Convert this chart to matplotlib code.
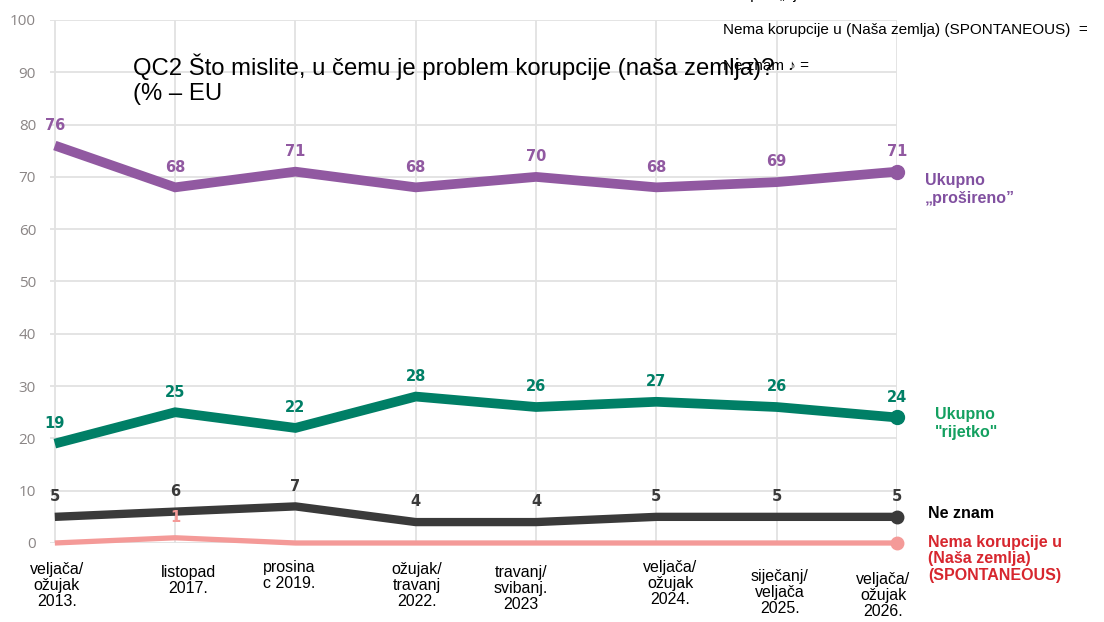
import matplotlib.pyplot as plt

# survey waves (x categories)
waves = ["veljača/\nožujak\n2013.", "listopad\n2017.", "prosina\nc 2019.",
         "ožujak/\ntravanj\n2022.", "travanj/\nsvibanj.\n2023",
         "veljača/\nožujak\n2024.", "siječanj/\nveljača\n2025.",
         "veljača/\nožujak\n2026."]

# series values (%)
prosireno = [76, 68, 71, 68, 70, 68, 69, 71]
rijetko = [19, 25, 22, 28, 26, 27, 26, 24]
ne_znam = [5, 6, 7, 4, 4, 5, 5, 5]
nema_korupcije = [0, 1, 0, 0, 0, 0, 0, 0]

yticks = [0, 10, 20, 30, 40, 50, 60, 70, 80, 90, 100]

# small nudges for the wave labels (pixels), as in the source image
label_dx = [2, 13, -6, 1, -15, 14, 3, -14]
label_dy = [0, 3, -2, 0, 3, -2, 7, 10]

plt.rcParams['font.family'] = ['Liberation Sans', 'DejaVu Sans']

fig = plt.figure(figsize=(11.04, 6.22), dpi=100)
ax = fig.add_axes([50 / 1104, 79 / 622, 847 / 1104, 523 / 622])

x = list(range(len(waves)))

series = [
    (prosireno, "#9159a1", 7, 10, "#9159a1", True),
    (rijetko, "#007f66", 7, 10, "#007f66", True),
    (ne_znam, "#3a3a3a", 6, 9, "#3a3a3a", True),
    (nema_korupcije, "#f49a98", 3.8, 9, "#f49a98", False),
]

for vals, col, lw, ms, lcol, all_labels in series:
    ax.plot(x, vals, color=col, lw=lw, solid_joinstyle='miter',
            solid_capstyle='butt', clip_on=False, zorder=3)
    ax.plot(x[-1], vals[-1], 'o', color=col, ms=ms, clip_on=False, zorder=4)
    for xi, v in zip(x, vals):
        if not all_labels and v == 0:
            continue
        ax.annotate(str(v), (xi, v), xytext=(0, 14.5), textcoords='offset points',
                    ha='center', va='center', fontsize=10.5, fontweight='bold',
                    color=lcol, family='DejaVu Sans', zorder=5)

ax.set_xlim(-0.04, 7)
ax.set_ylim(0, 100)
ax.set_yticks(yticks)
ax.set_yticklabels([str(t) for t in yticks], fontsize=11, color='#8a8585',
                   family='Open Sans')
ax.tick_params(axis='y', length=0, pad=10)
ax.set_xticks(x)
ax.set_xticklabels([])
ax.tick_params(axis='x', length=0)
ax.grid(True, color='#e2e2e2', lw=1.3)
ax.set_axisbelow(True)
for s in ax.spines.values():
    s.set_visible(False)

# wave labels under the axis
for xi, lab, dx, dy in zip(x, waves, label_dx, label_dy):
    ax.annotate(lab, (xi, 0), xytext=(dx * 0.72, (-19 - dy) * 0.72),
                textcoords='offset points', ha='center', va='top',
                fontsize=11.5, linespacing=1.1, annotation_clip=False)

# series names on the right
fig.text(925 / 1104, 1 - 189 / 622, "Ukupno\n„prošireno”", color='#8150a0',
         fontsize=11.5, fontweight='bold', va='center', linespacing=1.25)
fig.text(935 / 1104, 1 - 423 / 622, "Ukupno\n\"rijetko\"", color='#14a060',
         fontsize=11.5, fontweight='bold', va='center', linespacing=1.25)
fig.text(928 / 1104, 1 - 514 / 622, "Ne znam", color='black',
         fontsize=11.5, fontweight='bold', va='center')
fig.text(928 / 1104, 1 - 559 / 622, "Nema korupcije u\n(Naša zemlja)\n(SPONTANEOUS)",
         color='#d7262e', fontsize=11.5, fontweight='bold', va='center',
         linespacing=1.1)

# title and stray legend texts
fig.text(133 / 1104, 1 - 54 / 622,
         "QC2 Što mislite, u čemu je problem korupcije (naša zemlja)?\n(% – EU",
         fontsize=17.2, va='top', linespacing=1.15)
fig.text(723 / 1104, 1 - 30 / 622, "Nema korupcije u (Naša zemlja) (SPONTANEOUS)  =",
         fontsize=11, va='center')
fig.text(723 / 1104, 1 - 66 / 622, "Ne znam ♪ =", fontsize=11, va='center')
fig.text(723 / 1104, 1 - (-1) / 622, "Ukupno „rijetko” =", fontsize=11,
         va='baseline')

fig.savefig('out.png', dpi=100)
